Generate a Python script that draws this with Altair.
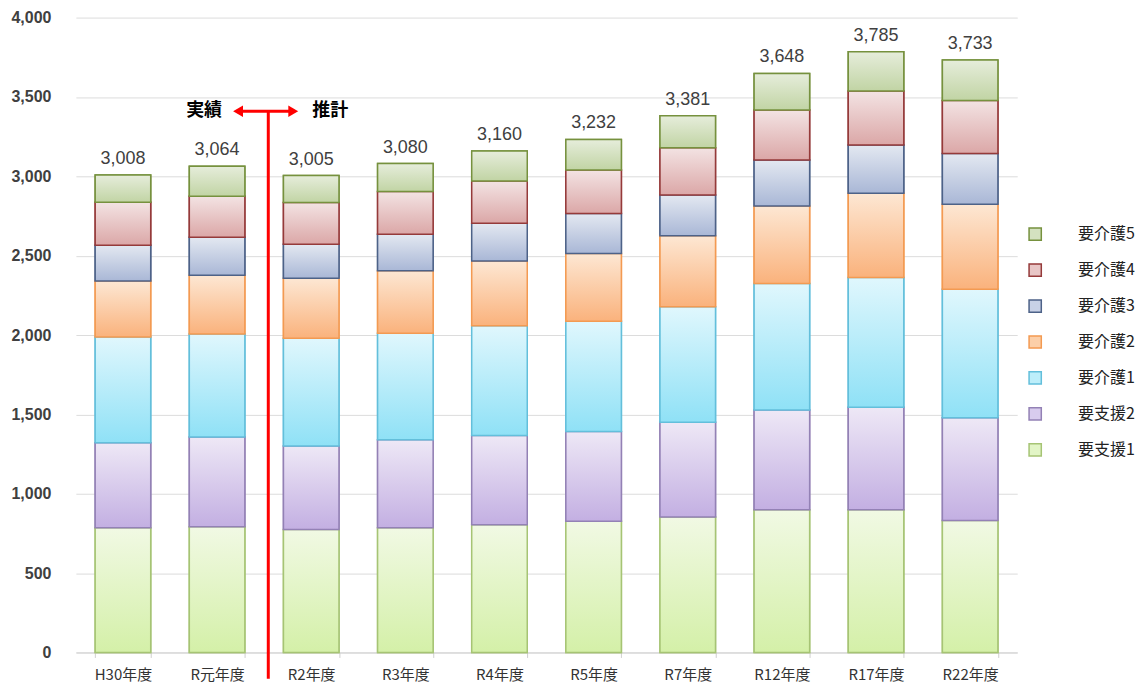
import altair as alt
import pandas as pd

years = ["H30年度", "R元年度", "R2年度", "R3年度", "R4年度", "R5年度",
         "R7年度", "R12年度", "R17年度", "R22年度"]
categories = ["要支援1", "要支援2", "要介護1", "要介護2", "要介護3", "要介護4", "要介護5"]
shien1 = [786, 792, 774, 786, 805, 826, 853, 899, 899, 832]
shien2 = [535, 566, 526, 554, 562, 566, 598, 629, 646, 646]
kaigo1 = [666, 648, 679, 671, 691, 694, 727, 797, 818, 811]
kaigo2 = [353, 371, 378, 394, 409, 428, 447, 488, 530, 535]
kaigo3 = [226, 239, 215, 230, 237, 251, 257, 290, 304, 319]
kaigo4 = [270, 258, 263, 269, 267, 275, 298, 314, 340, 335]
kaigo5 = [172, 190, 170, 176, 189, 192, 201, 231, 248, 255]
totals = [3008, 3064, 3005, 3080, 3160, 3232, 3381, 3648, 3785, 3733]

series = [shien1, shien2, kaigo1, kaigo2, kaigo3, kaigo4, kaigo5]
grad_top = ["#f1f9e4", "#eee8f6", "#e0f7fd", "#fde7d3", "#e3e8f1", "#f3e3e3", "#e6eddb"]
grad_bot = ["#d4f0a8", "#c3afe2", "#8fe1f6", "#fab27c", "#a9b7d6", "#dba7a7", "#c1d4a4"]
mid_fill = ["#e2f5c6", "#d8ccee", "#bdeefa", "#fccfa8", "#c8d1e6", "#e8c6c6", "#d4e1c0"]
strokes = ["#a6c474", "#9381b5", "#63bfdb", "#f39a52", "#4d6288", "#953a3a", "#76913e"]

rows = []
for ci, (cat, vals) in enumerate(zip(categories, series)):
    for y, v in zip(years, vals):
        rows.append({"year": y, "cat": cat, "value": v, "order": ci})
df = pd.DataFrame(rows)
tot_df = pd.DataFrame({"year": years, "total": totals})

JP = "Noto Sans CJK JP"
xscale = alt.Scale(domain=years, paddingInner=0.41, paddingOuter=0.205)
yscale = alt.Scale(domain=[0, 4000], nice=False)

xaxis = alt.Axis(title=None, labelFont=JP, labelFontSize=15,
                 labelColor="#333333", labelPadding=10, labelAngle=0,
                 domainColor="#d0d0d0", tickColor="#d0d0d0",
                 tickBand="extent", tickSize=5, grid=False)
yaxis = alt.Axis(title=None, values=list(range(0, 4001, 500)),
                 labelExpr="format(datum.value, ',')",
                 labelFontWeight="bold", labelColor="#404040", labelFontSize=16,
                 labelFont="Liberation Sans", labelPadding=25, ticks=False,
                 domain=False, gridColor="#dcdcdc")


def xenc(field):
    return alt.X(f"{field}:N", scale=xscale, sort=years, axis=xaxis)


def yenc(field):
    return alt.Y(f"{field}:Q", scale=yscale, axis=yaxis)


base = alt.Chart(df).transform_stack(
    stack="value", groupby=["year"], as_=["y0", "y1"],
    sort=[alt.SortField("order", order="ascending")])

legend_domain = categories[::-1]
legend = alt.Legend(title=None, orient="none", legendX=953, legendY=209,
                    symbolType="square", symbolSize=150, symbolStrokeWidth=1.5,
                    labelFont=JP, labelFontSize=16, labelColor="#222222",
                    labelOffset=35, rowPadding=16, symbolOpacity=1)

solid = base.mark_bar(strokeWidth=1.5).encode(
    x=xenc("year"), y=yenc("y1"), y2="y0:Q",
    fill=alt.Fill("cat:N", scale=alt.Scale(domain=legend_domain, range=mid_fill[::-1]),
                  legend=legend, sort=legend_domain),
    stroke=alt.Stroke("cat:N", scale=alt.Scale(domain=legend_domain, range=strokes[::-1]),
                      legend=legend, sort=legend_domain),
)

layers = [solid]
for ci, cat in enumerate(categories):
    grad = alt.Gradient(gradient="linear",
                        stops=[alt.GradientStop(color=grad_top[ci], offset=0),
                               alt.GradientStop(color=grad_bot[ci], offset=1)],
                        x1=0, x2=0, y1=0, y2=1)
    layers.append(
        base.transform_filter(alt.datum.cat == cat)
        .mark_bar(fill=grad, stroke=strokes[ci], strokeWidth=1.5)
        .encode(x=xenc("year"), y=yenc("y1"), y2="y0:Q")
    )

labels = alt.Chart(tot_df).mark_text(
    font="Liberation Sans", fontSize=18, color="#404040", baseline="alphabetic", dy=-11
).encode(x=xenc("year"), y=yenc("total"),
         text=alt.Text("total:Q", format=","))
layers.append(labels)

# 実績 / 推計 annotation
ann_df = pd.DataFrame({"a": ["R元年度"], "b": ["R2年度"], "ytop": [3410], "ybot": [-165]})
ann = alt.Chart(ann_df)
vline = ann.mark_rule(color="#ff0000", strokeWidth=3, xOffset=-43).encode(
    x=xenc("b"), y=yenc("ytop"), y2="ybot:Q")
hline = ann.mark_rule(color="#ff0000", strokeWidth=3, xOffset=20, x2Offset=-17).encode(
    x=xenc("a"), x2="b:N", y=yenc("ytop"))
head_l = ann.mark_point(shape="triangle-left", filled=True, size=130, color="#ff0000",
                        opacity=1, xOffset=21).encode(x=xenc("a"), y=yenc("ytop"))
head_r = ann.mark_point(shape="triangle-right", filled=True, size=130, color="#ff0000",
                        opacity=1, xOffset=-18).encode(x=xenc("b"), y=yenc("ytop"))
txt_l = ann.mark_text(text="実績", font=JP, fontSize=18, fontWeight="bold", color="#000000",
                      xOffset=-13, baseline="middle").encode(x=xenc("a"), y=yenc("ytop"))
txt_r = ann.mark_text(text="推計", font=JP, fontSize=18, fontWeight="bold", color="#000000",
                      xOffset=19, baseline="middle").encode(x=xenc("b"), y=yenc("ytop"))
layers += [vline, hline, head_l, head_r, txt_l, txt_r]

chart = alt.layer(*layers).properties(
    width=943, height=636,
    padding={"left": 2, "top": 1, "right": 5, "bottom": 0},
).configure(background="white", view=alt.ViewConfig(stroke=None))

chart.save("out.html", embed_options={"renderer": "svg", "actions": False})
